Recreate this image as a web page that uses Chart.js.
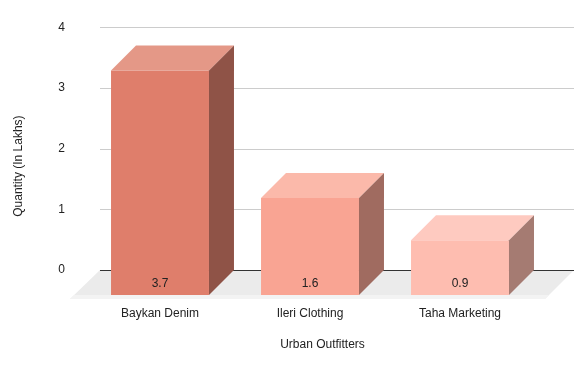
<!DOCTYPE html>
<html>
<head>
<meta charset="utf-8">
<script src="https://cdn.jsdelivr.net/npm/chart.js@4"></script>
<style>
  html, body { margin: 0; padding: 0; background: #fff; }
  #wrap { width: 585px; height: 371px; }
</style>
</head>
<body>
<div id="wrap"><canvas id="chart" width="585" height="371"></canvas></div>
<script>
// data
const categories = ["Baykan Denim", "Ileri Clothing", "Taha Marketing"];
const quantities = [3.7, 1.6, 0.9];
const yTicks = [0, 1, 2, 3, 4];
const xTitle = "Urban Outfitters";
const yTitle = "Quantity (In Lakhs)";

// per-bar shades (front, top, side)
const frontColors = ["#DF7E6B", "#F9A493", "#FEBDB0"];
const topColors = ["#E49887", "#FBB9AA", "#FECAC0"];
const sideColors = ["#8F5347", "#A06B60", "#A57B72"];

// fake 3d geometry
const DEPTH = 25;       // bar depth
const FLOOR_DEPTH = 29; // floor sticks out a bit further
const GRID_LEFT = 15;   // back plane extends past chart area
const GRID_RIGHT = 39;

const font = 'Arial, "Liberation Sans", sans-serif';
Chart.defaults.font.family = font;
Chart.defaults.font.size = 12;
Chart.defaults.color = "#222";

const bars3d = {
  id: "bars3d",
  beforeDatasetsDraw(chart) {
    const { ctx, chartArea, scales } = chart;
    const y = scales.y;
    const base = y.getPixelForValue(0);
    const bl = chartArea.left + GRID_LEFT, br = chartArea.right + GRID_RIGHT;
    const fl = bl - FLOOR_DEPTH - 1, fr = br - FLOOR_DEPTH;

    // floor
    ctx.save();
    ctx.beginPath();
    ctx.moveTo(bl, base);
    ctx.lineTo(br, base);
    ctx.lineTo(fr, base + FLOOR_DEPTH);
    ctx.lineTo(fl, base + FLOOR_DEPTH);
    ctx.closePath();
    ctx.fillStyle = "#EBEBEB";
    ctx.fill();
    ctx.clip();
    ctx.fillStyle = "#F3F3F3";
    ctx.fillRect(fl - 5, base + DEPTH, br - fl + 10, FLOOR_DEPTH - DEPTH);
    ctx.restore();

    // grid on back plane
    ctx.save();
    yTicks.forEach(t => {
      const py = Math.round(y.getPixelForValue(t)) + 0.5;
      ctx.beginPath();
      ctx.moveTo(bl, py);
      ctx.lineTo(br, py);
      ctx.lineWidth = 1;
      ctx.strokeStyle = t === 0 ? "#333" : "#CCCCCC";
      ctx.stroke();
    });
    ctx.restore();

    // front faces are drawn by chart.js, shifted forward
    ctx.save();
    ctx.translate(0, DEPTH);
  },
  afterDatasetsDraw(chart) {
    const { ctx, chartArea } = chart;
    ctx.restore();
    const meta = chart.getDatasetMeta(0);
    meta.data.forEach((bar, i) => {
      const { x, y, base, width } = bar.getProps(["x", "y", "base", "width"], true);
      const l = x - width / 2, r = x + width / 2;
      // top
      ctx.beginPath();
      ctx.moveTo(l, y + DEPTH);
      ctx.lineTo(r, y + DEPTH);
      ctx.lineTo(r + DEPTH, y);
      ctx.lineTo(l + DEPTH, y);
      ctx.closePath();
      ctx.fillStyle = topColors[i];
      ctx.fill();
      // side
      ctx.beginPath();
      ctx.moveTo(r, y + DEPTH);
      ctx.lineTo(r + DEPTH, y);
      ctx.lineTo(r + DEPTH, base);
      ctx.lineTo(r, base + DEPTH);
      ctx.closePath();
      ctx.fillStyle = sideColors[i];
      ctx.fill();
      // value label
      ctx.fillStyle = "#222";
      ctx.font = "12px " + font;
      ctx.textAlign = "center";
      ctx.textBaseline = "middle";
      ctx.fillText(String(quantities[i]), x, base + DEPTH - 11);
    });

    // axis titles, centred on the whole 3d plot
    const base0 = chart.scales.y.getPixelForValue(0);
    const plotLeft = chartArea.left + GRID_LEFT - FLOOR_DEPTH;
    const plotRight = chartArea.right + GRID_RIGHT;
    ctx.save();
    ctx.fillStyle = "#222";
    ctx.font = "12px " + font;
    ctx.textAlign = "center";
    ctx.textBaseline = "middle";
    ctx.fillText(xTitle, (plotLeft + plotRight) / 2, 345);
    ctx.translate(19, (chartArea.top + base0 + FLOOR_DEPTH) / 2 + 3);
    ctx.rotate(-Math.PI / 2);
    ctx.fillText(yTitle, 0, 0);
    ctx.restore();
  }
};

new Chart(document.getElementById("chart"), {
  type: "bar",
  data: {
    labels: categories,
    datasets: [{
      data: quantities,
      backgroundColor: frontColors,
      borderWidth: 0,
      barPercentage: 0.653,
      categoryPercentage: 1,
      clip: false
    }]
  },
  options: {
    responsive: false,
    animation: false,
    events: [],
    layout: { padding: { top: 23.5, right: 50, left: 0, bottom: 0 } },
    plugins: { legend: { display: false }, tooltip: { enabled: false } },
    scales: {
      x: {
        grid: { display: false, drawTicks: false },
        border: { display: false },
        ticks: { padding: 36, color: "#222", font: { size: 12 } },
        afterFit: s => { s.height = 101; }
      },
      y: {
        min: 0,
        max: 4,
        grid: { display: false, drawTicks: false },
        border: { display: false },
        ticks: { stepSize: 1, padding: 20, color: "#222", font: { size: 12 } },
        afterFit: s => { s.width = 85; }
      }
    }
  },
  plugins: [bars3d]
});
</script>
</body>
</html>
